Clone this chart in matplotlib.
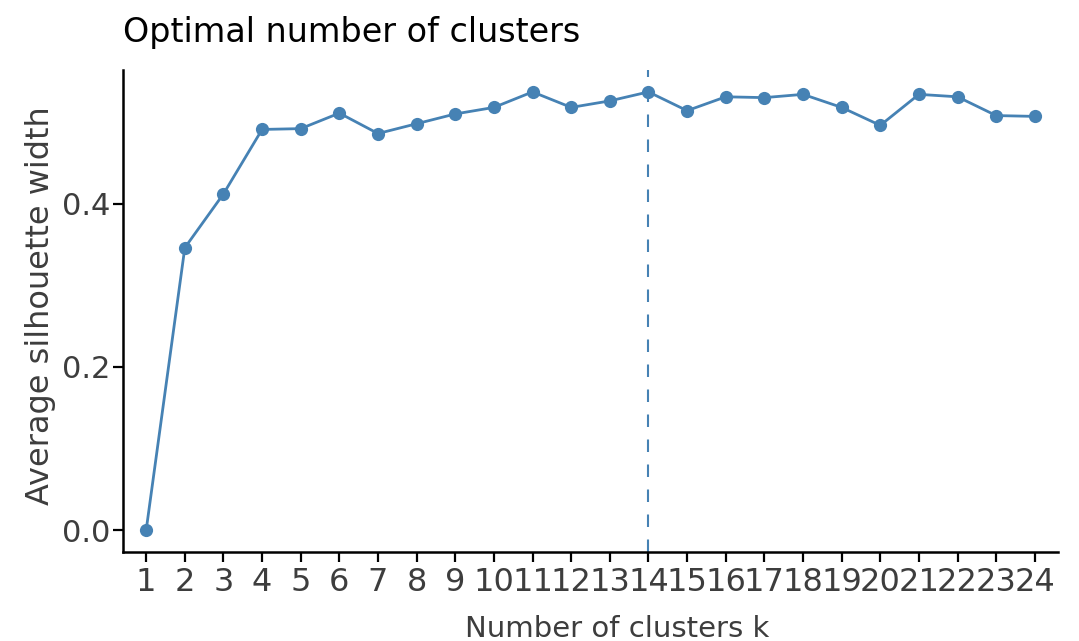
import numpy as np
import matplotlib
matplotlib.use("Agg")
import matplotlib.pyplot as plt

# Silhouette widths
k_values = list(range(1, 25))
silhouette = [0.000, 0.346, 0.412, 0.491, 0.492, 0.511, 0.486, 0.498,
              0.510, 0.518, 0.537, 0.518, 0.526, 0.537, 0.514, 0.531,
              0.530, 0.534, 0.518, 0.496, 0.534, 0.531, 0.508, 0.507]
optimal_k = 14
tick_labels = [str(k) for k in k_values]

line_color = "#4682B4"
text_grey = "#3d3d3d"

plt.rcParams["font.family"] = ["DejaVu Sans"]

fig = plt.figure(figsize=(10.79, 6.41), dpi=100)
ax = fig.add_axes([123 / 1079, 89 / 641, 935 / 1079, 482 / 641])

# Line + points
ax.plot(k_values, silhouette, color=line_color, linewidth=2.0,
        marker="o", markersize=9.5, markeredgewidth=0, zorder=3)

# Optimal k marker
ax.axvline(optimal_k, color=line_color, linewidth=1.5, dashes=(6, 6), zorder=2)

# Axis limits (ggplot-style expansion)
lo, hi = min(silhouette), max(silhouette)
pad = 0.05 * (hi - lo)
ax.set_ylim(lo - pad, hi + pad)
ax.set_xlim(0.4, 24.6)

ax.set_xticks(k_values)
ax.set_xticklabels(tick_labels)
ax.set_yticks([0.0, 0.2, 0.4])
ax.set_yticklabels(["0.0", "0.2", "0.4"])

# Spines
for side in ["top", "right"]:
    ax.spines[side].set_visible(False)
for side in ["left", "bottom"]:
    ax.spines[side].set_linewidth(1.8)
    ax.spines[side].set_color("black")

ax.tick_params(axis="x", length=7, width=1.6, color="black",
               labelsize=23, labelcolor=text_grey, pad=4)
ax.tick_params(axis="y", length=7, width=1.6, color="black",
               labelsize=22, labelcolor=text_grey, pad=2)

# Labels
ax.set_xlabel("Number of clusters k", fontsize=21, color=text_grey)
ax.xaxis.label.set_va("baseline")
ax.xaxis.set_label_coords(0.529, -0.176)

ax.set_ylabel("Average silhouette width", fontsize=23, color=text_grey)
ax.yaxis.label.set_va("center")
ax.yaxis.set_label_coords(-0.088, 0.511)

ax.text(0.0, 1.058, "Optimal number of clusters", transform=ax.transAxes,
        fontsize=24, color="black", ha="left", va="baseline")

fig.savefig("out.png", dpi=100)
